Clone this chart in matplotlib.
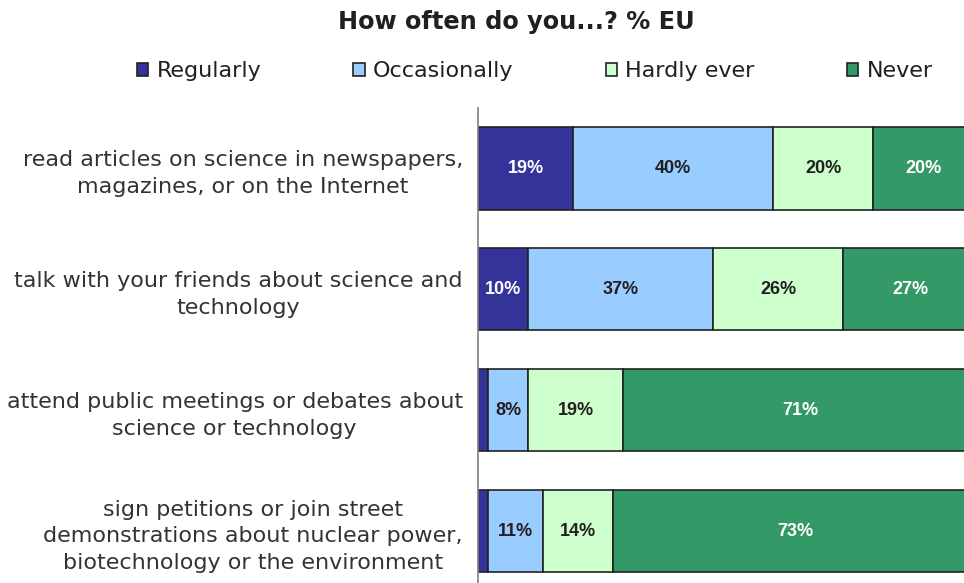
import matplotlib.pyplot as plt
from matplotlib.patches import Patch

# survey answers, % EU
questions = [
    "read articles on science in newspapers,\nmagazines, or on the Internet",
    "talk with your friends about science and\ntechnology",
    "attend public meetings or debates about\nscience or technology",
    "sign petitions or join street\ndemonstrations about nuclear power,\nbiotechnology or the environment",
]
answers = ["Regularly", "Occasionally", "Hardly ever", "Never"]
regularly = [19, 10, 2, 2]
occasionally = [40, 37, 8, 11]
hardly_ever = [20, 26, 19, 14]
never = [20, 27, 71, 73]

colours = ["#333399", "#99ccff", "#ccffcc", "#339966"]
label_colours = ["white", "#231f20", "#231f20", "white"]

fig = plt.figure(figsize=(9.64, 5.83), dpi=100)
ax = fig.add_axes([0.4959, -0.0146, 0.5041, 0.8294])

series = [regularly, occasionally, hardly_ever, never]
left = [0] * len(questions)
for vals, col, tcol in zip(series, colours, label_colours):
    bars = ax.barh(range(len(questions)), vals, left=left, height=0.68,
                   color=col, edgecolor="#222222", linewidth=1.2)
    for b, v in zip(bars, vals):
        if v >= 5:
            ax.text(b.get_x() + b.get_width() / 2, b.get_y() + b.get_height() / 2,
                    f"{v}%", ha="center", va="center", color=tcol,
                    fontsize=13, fontweight="bold", family="Liberation Sans")
    left = [l + v for l, v in zip(left, vals)]

ax.set_xlim(0, 97.2)
ax.set_ylim(3.5, -0.5)
ax.set_yticks(range(len(questions)))
ax.set_yticklabels(questions, fontsize=16, color="#333333",
                   multialignment="center", linespacing=1.4)
ax.tick_params(axis="y", length=0, pad=11)
ax.set_xticks([])
for s in ["top", "right", "bottom"]:
    ax.spines[s].set_visible(False)
ax.spines["left"].set_color("#808080")
ax.spines["left"].set_linewidth(1.2)

fig.text(0.536, 0.962, "How often do you...? % EU", ha="center", va="center",
         fontsize=17.3, fontweight="bold", color="#231f20")

handles = [Patch(facecolor=c, edgecolor="#222222", linewidth=1.2) for c in colours]
fig.legend(handles, answers, loc="center left", bbox_to_anchor=(0.142, 0.878),
           ncol=4, frameon=False, fontsize=16, handlelength=0.52, handleheight=0.52,
           handletextpad=0.36, columnspacing=4.15, labelcolor="#231f20",
           borderaxespad=0, borderpad=0)

fig.savefig("out.png", dpi=100)
